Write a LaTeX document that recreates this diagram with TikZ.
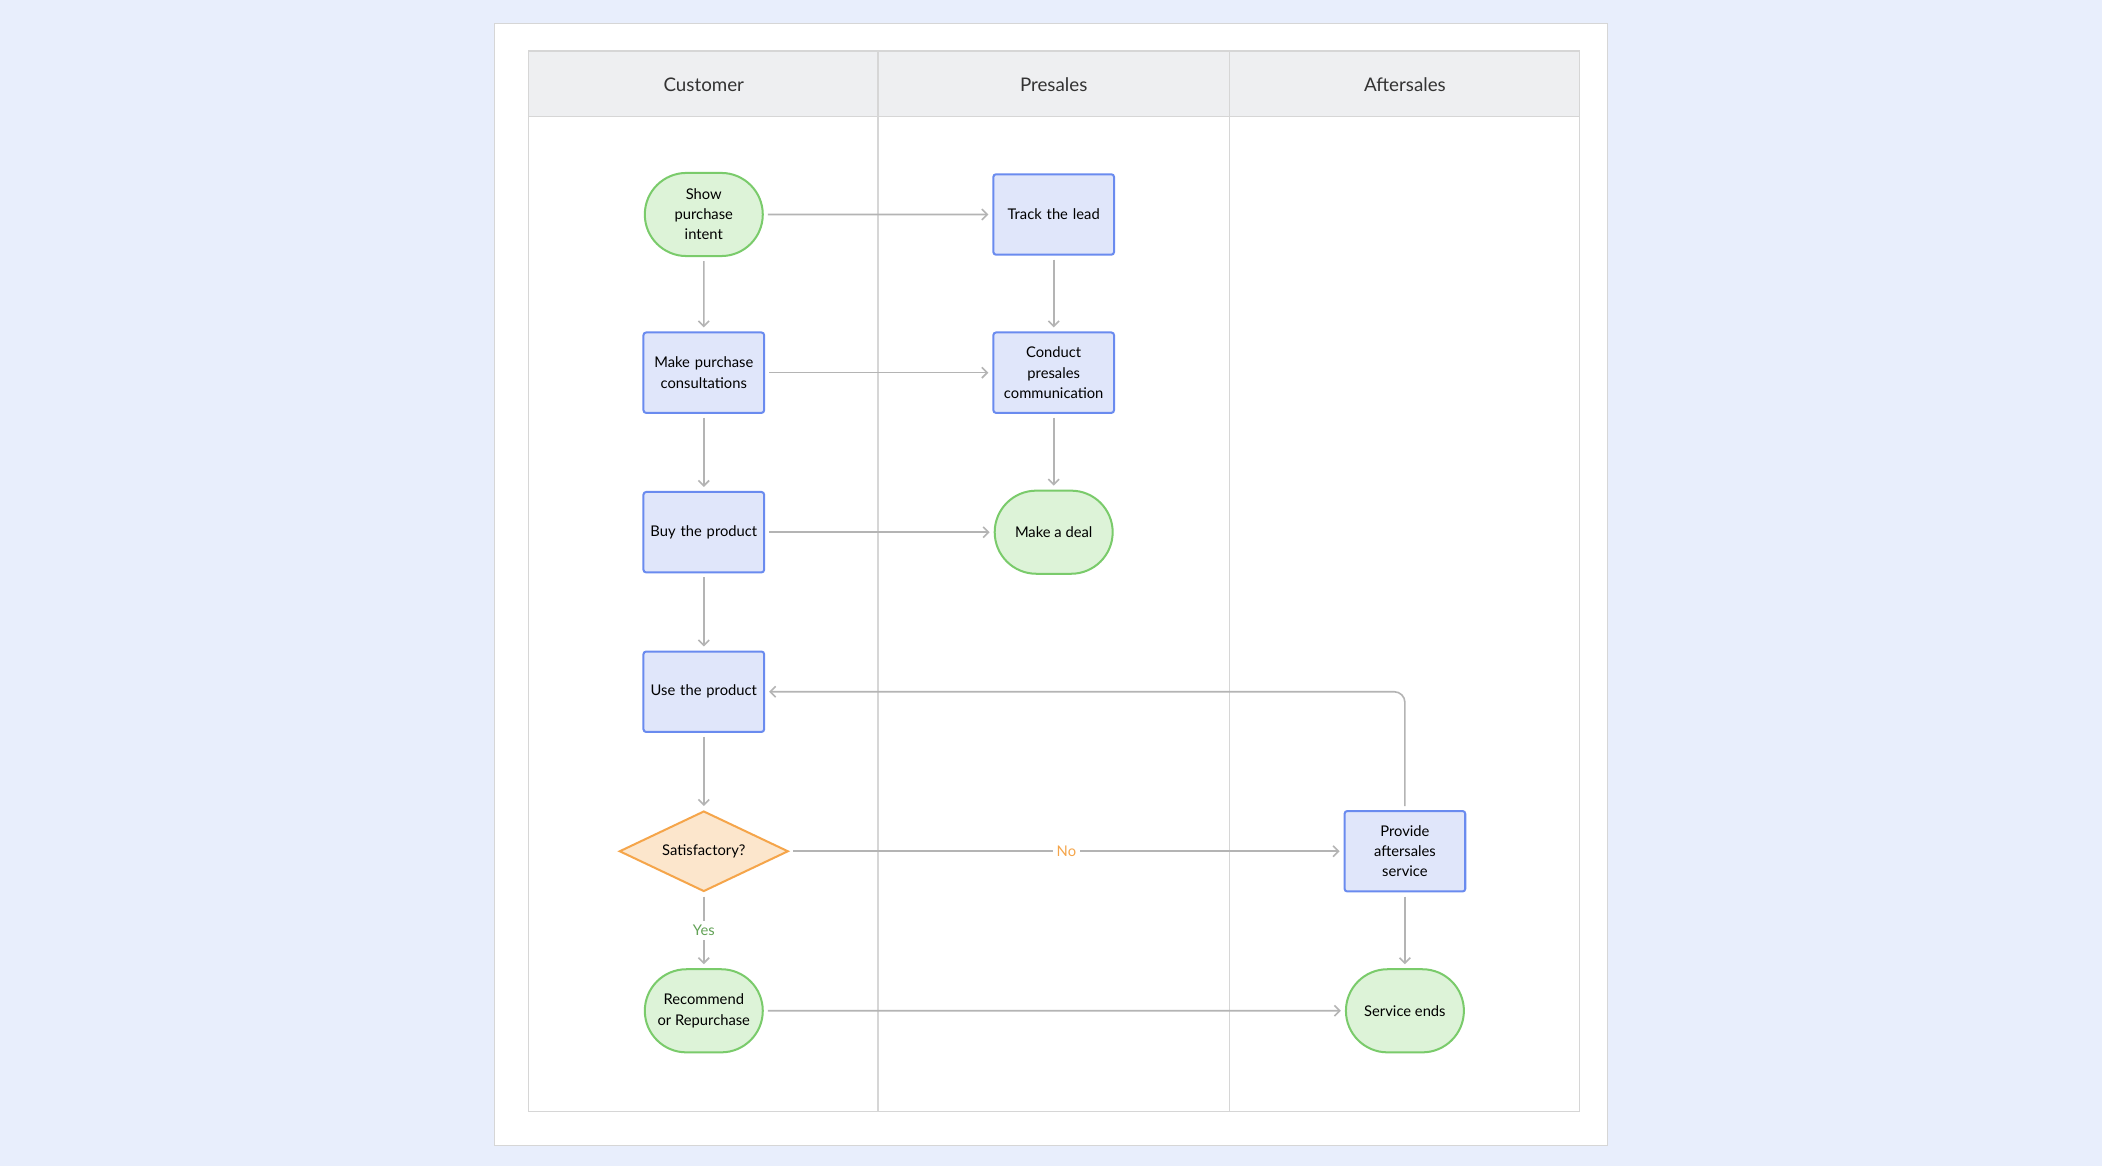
\documentclass[tikz,border=0pt]{standalone}
\usepackage{fontspec}
\setmainfont{Lato}
\usetikzlibrary{shapes.misc,shapes.geometric,arrows.meta}
\definecolor{bg}{HTML}{E8EEFC}
\definecolor{boxf}{HTML}{E0E6FA}
\definecolor{boxd}{HTML}{6A8BEF}
\definecolor{grf}{HTML}{DDF3D8}
\definecolor{grd}{HTML}{7ACB6B}
\definecolor{orf}{HTML}{FCE6CC}
\definecolor{ord}{HTML}{F5A54A}
\definecolor{ln}{HTML}{B4B4B4}
\definecolor{hd}{HTML}{EEEFF1}
\definecolor{grid}{HTML}{D6D6D6}
\begin{document}
\begin{tikzpicture}[x=1pt,y=-1pt,
 box/.style={draw=boxd,fill=boxf,line width=1.5pt,rounded corners=2pt,minimum width=90pt,minimum height=60pt,align=center,font=\fontsize{11}{15}\selectfont,text width=86pt,inner sep=1pt},
 term/.style={rounded rectangle,draw=grd,fill=grf,line width=1.5pt,minimum width=90pt,minimum height=62pt,align=center,font=\fontsize{11}{15}\selectfont,inner sep=1pt},
 dec/.style={diamond,draw=ord,fill=orf,line width=1.5pt,minimum width=126pt,minimum height=60pt,aspect=2.1,inner sep=0pt,font=\fontsize{11}{15}\selectfont},
 arr/.style={draw=ln,line width=1.2pt,-{Straight Barb[length=4pt,width=8pt]},shorten >=3pt,shorten <=3pt},
 hdr/.style={font=\fontsize{14}{16}\selectfont,text=black!80}]
\useasboundingbox (0,0) rectangle (1568,870);
\fill[bg] (0,0) rectangle (1568,870);
\fill[white,draw=grid] (369,17) rectangle (1199,854);
\fill[hd] (394,38) rectangle (1178,87);
\draw[grid,line width=1pt] (394,38) rectangle (1178,829) (394,87)--(1178,87) (655,38)--(655,829) (917,38)--(917,829);
\node[hdr] (h1) at (525,63) {Customer};
\node[hdr] (h2) at (786,63) {Presales};
\node[hdr] (h3) at (1048,63) {Aftersales};
\node[term] (spi) at (525,160) {Show\\purchase\\intent};
\node[box] (tl) at (786,160) {Track the lead};
\node[box] (mpc) at (525,278) {Make purchase\\consultations};
\node[box] (cpc) at (786,278) {Conduct\\presales\\communication};
\node[box] (bp) at (525,397) {Buy the product};
\node[term] (md) at (786,397) {Make a deal};
\node[box] (up) at (525,516) {Use the product};
\node[dec] (sat) at (525,635) {Satisfactory?};
\node[box] (pas) at (1048,635) {Provide\\aftersales\\service};
\node[term] (rr) at (525,754) {Recommend\\or Repurchase};
\node[term] (se) at (1048,754) {Service ends};
\draw[arr] (spi)--(tl);
\draw[arr] (spi)--(mpc);
\draw[arr] (tl)--(cpc);
\draw[arr] (mpc)--(cpc);
\draw[arr] (mpc)--(bp);
\draw[arr] (cpc)--(md);
\draw[arr] (bp)--(md);
\draw[arr] (bp)--(up);
\draw[arr] (up)--(sat);
\draw[arr] (sat)--node[fill=white,text=ord,font=\fontsize{11}{13}\selectfont,inner sep=3pt]{No}(pas);
\draw[arr] (sat)--node[fill=white,text=grd!80!black,font=\fontsize{11}{13}\selectfont,inner sep=3pt]{Yes}(rr);
\draw[arr] (pas)--(se);
\draw[arr] (rr)--(se);
\draw[arr,rounded corners=8pt] (pas.north)--(1048,516)--(up.east);
\end{tikzpicture}
\end{document}
